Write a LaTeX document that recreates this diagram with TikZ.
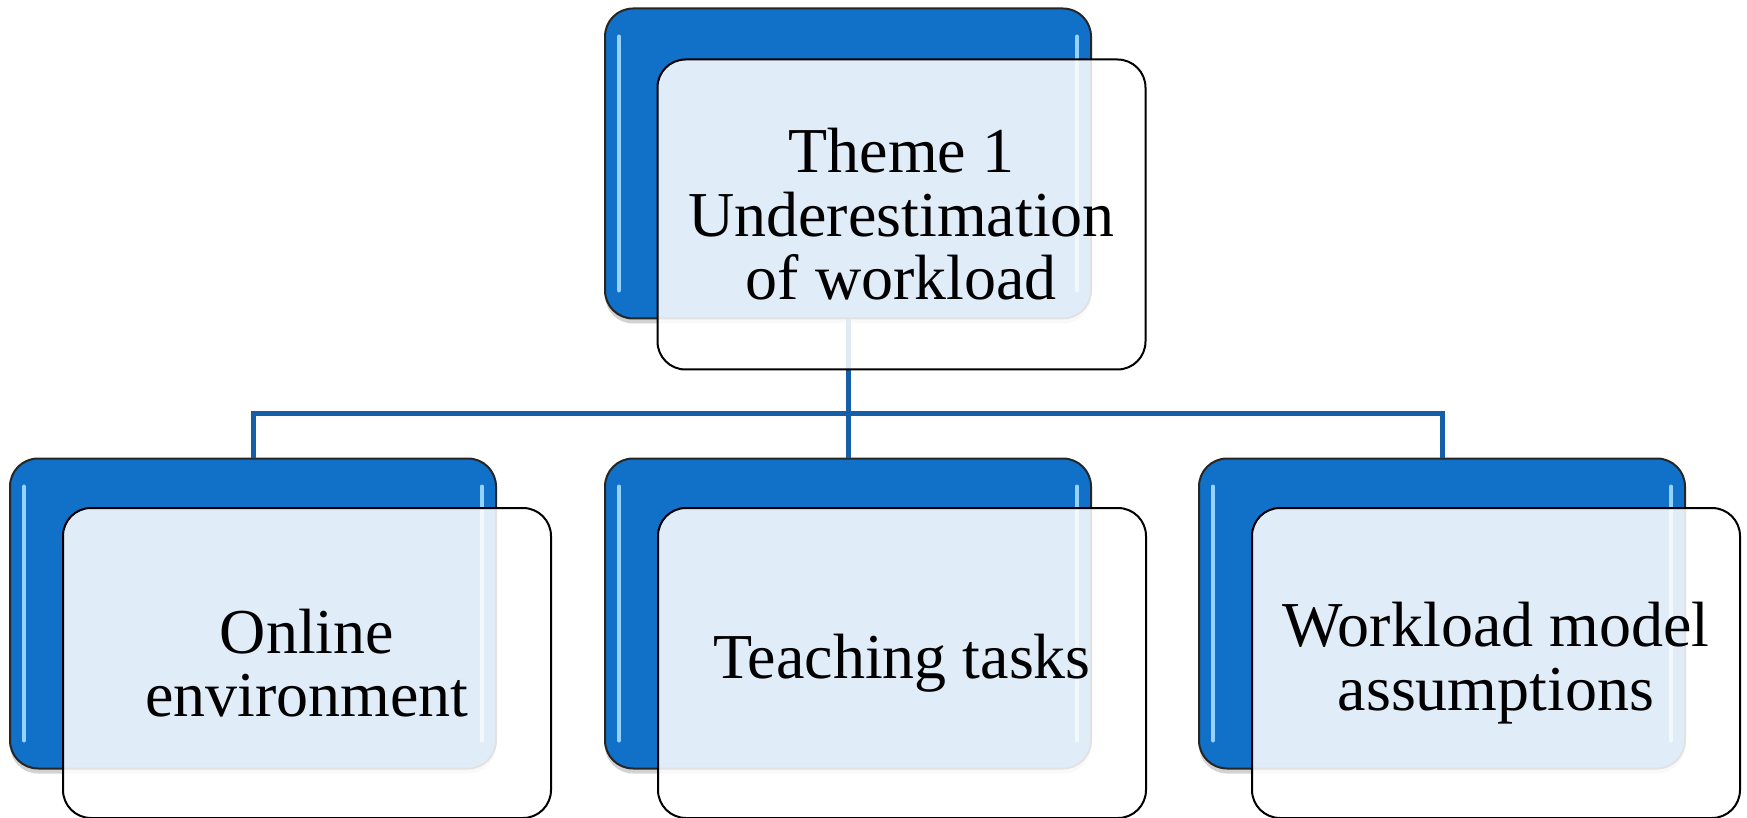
\documentclass[tikz,border=0pt]{standalone}
\usepackage{fontspec}
\setmainfont{Liberation Serif}
\usetikzlibrary{shadows}
\definecolor{themeblue}{RGB}{17,112,199}
\definecolor{linkblue}{RGB}{21,94,168}
\definecolor{glintblue}{RGB}{150,210,255}
\tikzset{
  glint/.style={glintblue, line width=2pt, line cap=round},
  backbox/.style={draw=black!85, line width=1pt, fill=themeblue, rounded corners=14pt,
    minimum width=243pt, minimum height=155pt, inner sep=0pt,
    drop shadow={shadow xshift=0pt, shadow yshift=-2.5pt, opacity=0.35},
    path picture={
      \draw[glint] ([xshift=7pt,yshift=-14pt]path picture bounding box.north west) -- ([xshift=7pt,yshift=14pt]path picture bounding box.south west);
      \draw[glint] ([xshift=-7pt,yshift=-14pt]path picture bounding box.north east) -- ([xshift=-7pt,yshift=14pt]path picture bounding box.south east);
    }},
  frontbox/.style={draw=black, line width=1pt, fill=white, fill opacity=0.87, text opacity=1,
    rounded corners=14pt, minimum width=244pt, minimum height=155pt, inner sep=0pt,
    align=center, font=\fontsize{32}{31.75}\selectfont},
  link/.style={linkblue, line width=2.5pt}
}
\begin{document}
\begin{tikzpicture}[x=0.5pt,y=-0.5pt]
    % Background
    \fill[white] (0,0) rectangle (1747,818);
    \useasboundingbox (0,0) rectangle (1747,818);
    % Back boxes
    \node[backbox] (themeback) at (848,163.5) {};
    \node[backbox] (onlineback) at (253,613.5) {};
    \node[backbox] (teachback) at (848,613.5) {};
    \node[backbox] (modelback) at (1442,613.5) {};
    % Links
    \coordinate (fork) at (848,414);
    \draw[link] (themeback.south) -- (teachback.north);
    \draw[link] (onlineback.north) |- (fork) -| (modelback.north);
    % Front boxes
    \node[frontbox] (theme) at (901.5,214.5) {Theme 1\\Underestimation\\of workload};
    \node[frontbox] (online) at (307,663) {Online\\environment};
    \node[frontbox] (teach) at (902,663) {Teaching tasks};
    \node[frontbox] (model) at (1496,663) {Workload model\\assumptions};
\end{tikzpicture}
\end{document}
